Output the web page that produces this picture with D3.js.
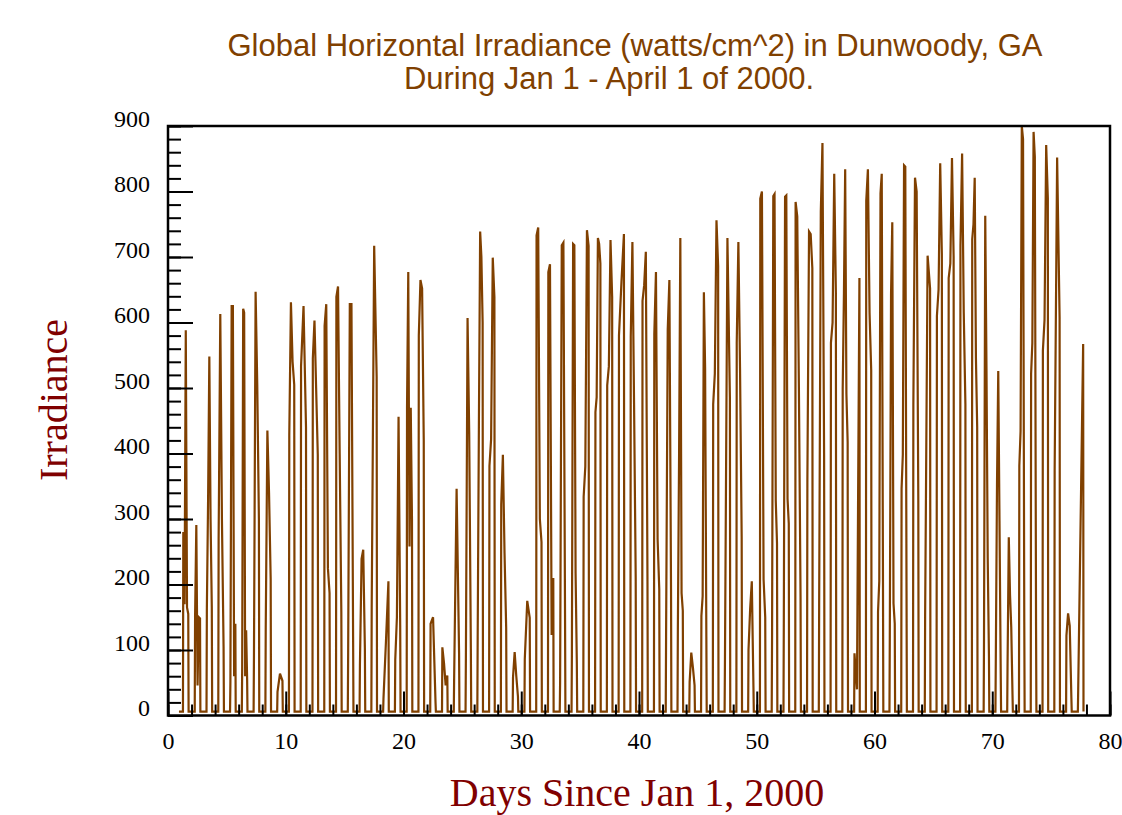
<!DOCTYPE html>
<meta charset="utf-8">
<title>Global Horizontal Irradiance</title>
<script src="https://cdn.jsdelivr.net/npm/d3@7"></script>
<style>
  body { margin: 0; background: #fff; }
  .tick text { font-family: "Liberation Serif", "Times New Roman", serif; font-size: 24px; fill: #000; }
  .title { font-family: "Liberation Sans", Arial, sans-serif; font-size: 31px; fill: #804000; }
  .axis-label { font-family: "Liberation Serif", "Times New Roman", serif; font-size: 40px; fill: #800000; }
</style>
<body>
<div id="chart"></div>
<script>
  // readings of each day's daylight samples (watts/cm^2), day 1 .. day 77
  var firstDay = 1;
  var nightLevel = 6;
  var dayProfiles = [
    [280, 170, 588, 165, 155],
    [150, 291, 46, 150, 148],
    [163, 330, 548, 300, 165],
    [270, 613, 300, 105],
    [52, 625, 625, 60, 140],
    [73, 621, 615, 60, 130, 55],
    [90, 647, 505, 300],
    [134, 435, 340, 208],
    [36, 64, 53],
    [428, 631, 540, 505],
    [533, 625, 440],
    [545, 603, 500, 398],
    [595, 628, 225, 187],
    [639, 655, 400, 158],
    [96, 628, 628, 120],
    [77, 239, 253, 102],
    [165, 717, 517],
    [26, 113, 205],
    [85, 150, 456, 137],
    [469, 677, 258, 470, 300],
    [580, 665, 652, 420],
    [140, 150, 20],
    [104, 80, 46, 61],
    [55, 346, 96],
    [93, 607, 432, 102],
    [120, 450, 739, 700, 600],
    [381, 422, 699, 639],
    [322, 398, 248, 134],
    [58, 97, 60, 29],
    [86, 175, 149],
    [733, 745, 300, 265],
    [677, 689, 123, 210],
    [50, 718, 722, 146],
    [90, 720, 718, 217, 80],
    [334, 380, 741, 717],
    [463, 486, 729, 720, 690],
    [504, 533, 726, 639],
    [580, 662, 735],
    [579, 723, 478, 210],
    [633, 657, 708, 205],
    [582, 677, 269, 193],
    [120, 589, 665, 193],
    [131, 400, 729, 187, 160],
    [51, 96, 73, 46],
    [152, 182, 646, 530, 120],
    [475, 522, 756, 686],
    [85, 729, 485],
    [569, 723, 530, 272],
    [100, 163, 205, 43],
    [789, 800, 208, 150],
    [120, 793, 796, 328, 263],
    [150, 792, 794, 331, 293],
    [784, 762, 500, 180],
    [361, 739, 735, 683],
    [167, 769, 874, 400],
    [569, 600, 827, 645],
    [498, 645, 834, 491, 417],
    [95, 40, 668],
    [786, 834, 615, 527],
    [158, 205, 797, 827, 205],
    [122, 644, 753, 171, 140],
    [346, 398, 840, 838, 190],
    [475, 821, 800, 328],
    [152, 702, 652],
    [610, 650, 843, 704],
    [668, 690, 851, 700],
    [717, 858, 615, 475],
    [727, 750, 821, 545, 440],
    [117, 763, 530, 240, 90],
    [80, 356, 526, 297, 64],
    [79, 272, 184, 134, 32],
    [381, 434, 900, 880, 143],
    [522, 569, 891, 853, 137],
    [557, 604, 871, 790],
    [374, 852, 607],
    [122, 156, 137, 27],
    [40, 567]
  ];
  // fraction of the day where sunrise / sunset samples sit
  var sunrise = 0.3, sunset = 0.72;
  var recordStart = 0.93, recordEnd = 77.75;

  var xMajor = [0, 10, 20, 30, 40, 50, 60, 70, 80];
  var xMinor = d3.range(0, 81, 2);
  var yMajor = [0, 100, 200, 300, 400, 500, 600, 700, 800, 900];
  var yMinor = d3.range(0, 901, 20);

  var width = 1122, height = 815;
  var margin = { top: 126, right: 12, bottom: 99.5, left: 168 };

  var svg = d3.select("#chart").append("svg")
    .attr("width", width)
    .attr("height", height);

  var x = d3.scaleLinear().domain([0, 80]).range([margin.left, width - margin.right]);
  var y = d3.scaleLinear().domain([0, 900]).range([height - margin.bottom, margin.top]);

  // build the time series: night baseline between daylight samples
  var series = [[recordStart, nightLevel]];
  dayProfiles.forEach(function (vals, i) {
    var d = firstDay + i;
    series.push([d + sunrise - 0.03, nightLevel]);
    vals.forEach(function (v, j) {
      var t = vals.length > 1 ? j / (vals.length - 1) : 0.5;
      series.push([d + sunrise + t * (sunset - sunrise), v]);
    });
    series.push([d + sunset + 0.03, nightLevel]);
  });
  series.push([recordEnd, nightLevel]);

  svg.append("path")
    .datum(series)
    .attr("fill", "none")
    .attr("stroke", "#804000")
    .attr("stroke-width", 2.2)
    .attr("stroke-linejoin", "miter")
    .attr("d", d3.line().x(function (d) { return x(d[0]); }).y(function (d) { return y(d[1]); }));

  // axes, ticks pointing inward
  var bottom = height - margin.bottom;
  svg.append("g")
    .attr("transform", "translate(0," + bottom + ")")
    .call(d3.axisBottom(x).tickValues(xMinor).tickSize(-11).tickFormat(""))
    .call(function (g) { g.select(".domain").remove(); });
  svg.append("g")
    .attr("transform", "translate(0," + bottom + ")")
    .call(d3.axisBottom(x).tickValues(xMajor).tickSize(-24).tickPadding(16))
    .call(function (g) { g.select(".domain").remove(); });

  svg.append("g")
    .attr("transform", "translate(" + margin.left + ",0)")
    .call(d3.axisLeft(y).tickValues(yMinor).tickSize(-13).tickFormat(""))
    .call(function (g) { g.select(".domain").remove(); });
  svg.append("g")
    .attr("transform", "translate(" + margin.left + ",0)")
    .call(d3.axisLeft(y).tickValues(yMajor).tickSize(-25).tickPadding(18))
    .call(function (g) {
      g.select(".domain").remove();
      g.selectAll(".tick text").attr("dy", "0em");
    });

  svg.selectAll(".tick line").attr("stroke", "#000").attr("stroke-width", 2);

  // frame
  svg.append("rect")
    .attr("x", margin.left)
    .attr("y", margin.top)
    .attr("width", width - margin.left - margin.right)
    .attr("height", height - margin.top - margin.bottom)
    .attr("fill", "none")
    .attr("stroke", "#000")
    .attr("stroke-width", 2.5);

  // titles
  svg.append("text").attr("class", "title")
    .attr("x", 635).attr("y", 56).attr("text-anchor", "middle")
    .text("Global Horizontal Irradiance (watts/cm^2) in Dunwoody, GA");
  svg.append("text").attr("class", "title")
    .attr("x", 609).attr("y", 89).attr("text-anchor", "middle")
    .text("During Jan 1 - April 1 of 2000.");

  svg.append("text").attr("class", "axis-label")
    .attr("transform", "translate(67,400) rotate(-90)")
    .attr("text-anchor", "middle")
    .text("Irradiance");
  svg.append("text").attr("class", "axis-label")
    .attr("x", 637).attr("y", 806).attr("text-anchor", "middle")
    .text("Days Since Jan 1, 2000");
</script>
</body>
